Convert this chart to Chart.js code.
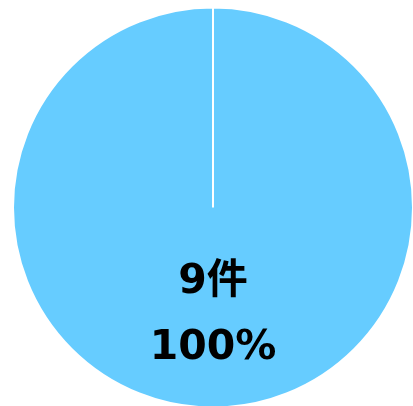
<!DOCTYPE html>
<html lang="ja">
<head>
<meta charset="UTF-8">
<title>件数</title>
<script src="https://cdn.jsdelivr.net/npm/chart.js"></script>
<style>
  html, body { margin: 0; padding: 0; background: #fff; }
  .chart-box { width: 413px; height: 406px; }
</style>
</head>
<body>
<div class="chart-box">
  <canvas id="pieChart"></canvas>
</div>
<script>
// 集計データ
const categories = ['該当'];
const counts = [9];
const sliceColors = ['#66CCFF'];

// 件数とパーセントをスライスの中に描く
const sliceLabels = {
  id: 'sliceLabels',
  afterDatasetsDraw(chart) {
    const ctx = chart.ctx;
    const meta = chart.getDatasetMeta(0);
    const total = counts.reduce((a, b) => a + b, 0);
    meta.data.forEach((arc, i) => {
      const r = arc.outerRadius;
      const pct = Math.round(counts[i] / total * 100);
      ctx.save();
      ctx.fillStyle = '#000';
      ctx.textAlign = 'center';
      ctx.textBaseline = 'middle';
      ctx.font = 'bold 41px "DejaVu Sans", "Noto Sans CJK JP"';
      ctx.fillText(counts[i] + '件', arc.x, arc.y + r * 0.375);
      ctx.fillText(pct + '%', arc.x, arc.y + r * 0.705);
      ctx.restore();
    });
  }
};

new Chart(document.getElementById('pieChart'), {
  type: 'pie',
  data: {
    labels: categories,
    datasets: [{
      data: counts,
      backgroundColor: sliceColors,
      borderColor: '#fff',
      borderWidth: 2
    }]
  },
  options: {
    responsive: true,
    maintainAspectRatio: false,
    animation: false,
    radius: 200,
    layout: { padding: { left: 14, right: 1, top: 9, bottom: 0 } },
    plugins: {
      legend: { display: false },
      tooltip: { enabled: false }
    }
  },
  plugins: [sliceLabels]
});
</script>
</body>
</html>
